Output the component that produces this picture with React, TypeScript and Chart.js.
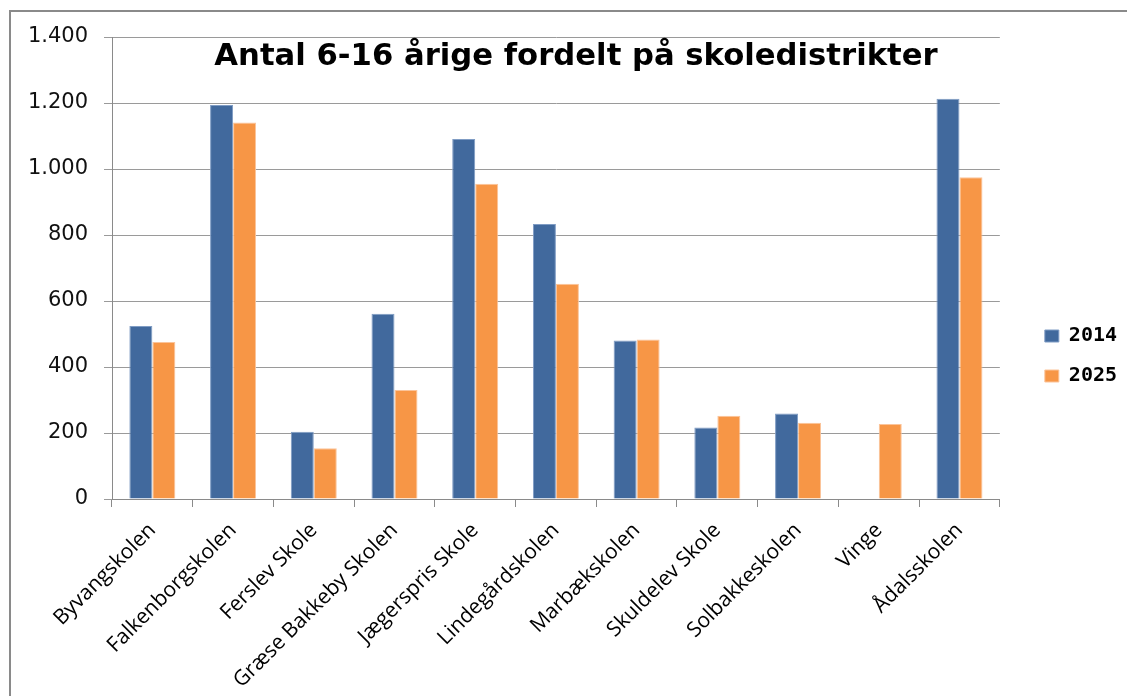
import React, { useEffect, useRef } from 'react';
import { Chart, registerables } from 'chart.js';

Chart.register(...registerables);

const categories = [
  'Byvangskolen',
  'Falkenborgskolen',
  'Ferslev Skole',
  'Græse Bakkeby Skolen',
  'Jægerspris Skole',
  'Lindegårdskolen',
  'Marbækskolen',
  'Skuldelev Skole',
  'Solbakkeskolen',
  'Vinge',
  'Ådalsskolen',
];
const values2014: (number | null)[] = [524, 1194, 204, 561, 1091, 833, 480, 217, 259, null, 1213];
const values2025: number[] = [476, 1141, 154, 330, 955, 652, 483, 252, 231, 227, 975];
const seriesLabels = ['2014', '2025'];
const yMin = 0;
const yMax = 1400;
const yStep = 200;
const titleText = 'Antal 6-16 årige fordelt på skoledistrikter';

const fmt = (v: number) => String(Math.round(v)).replace(/\B(?=(\d{3})+(?!\d))/g, '.');

export default function App() {
  const ref = useRef<HTMLCanvasElement | null>(null);
  useEffect(() => {
    if (!ref.current) return;
    const framePlugin = {
      id: 'frame',
      beforeDraw(chart: any) {
        const { ctx, width, height } = chart;
        ctx.save();
        ctx.fillStyle = '#ffffff';
        ctx.fillRect(0, 0, width, height);
        ctx.fillStyle = '#8a8a8a';
        ctx.fillRect(9, 10, width - 9, 2);
        ctx.fillRect(9, 10, 2, height - 10);
        ctx.restore();
      },
      afterDraw(chart: any) {
        const { ctx } = chart;
        ctx.save();
        ctx.fillStyle = '#000000';
        ctx.font = 'bold 30.7px "DejaVu Sans"';
        ctx.textAlign = 'center';
        ctx.textBaseline = 'alphabetic';
        ctx.fillText(titleText, 576, 65);
        ctx.restore();
      },
    };
    const chart = new Chart(ref.current, {
      type: 'bar',
      data: {
        labels: categories,
        datasets: [
          {
            label: seriesLabels[0],
            data: values2014,
            backgroundColor: '#41699D',
            borderColor: '#7f9cc4',
            borderWidth: 1,
            categoryPercentage: 0.57,
            barPercentage: 1,
          },
          {
            label: seriesLabels[1],
            data: values2025,
            backgroundColor: '#F79646',
            borderColor: '#fbc49a',
            borderWidth: 1,
            categoryPercentage: 0.57,
            barPercentage: 1,
          },
        ],
      },
      options: {
        responsive: false,
        animation: false,
        devicePixelRatio: 1,
        layout: { padding: { top: 16, bottom: 0, left: 0, right: 0 } },
        plugins: {
          title: {
            display: true,
            text: ' ',
            font: { size: 10, lineHeight: 1 },
            padding: { top: 5, bottom: 6 },
          },
          tooltip: { enabled: false },
          legend: {
            position: 'right',
            labels: {
              boxWidth: 14,
              boxHeight: 12,
              padding: 20,
              color: '#000',
              font: { family: '"DejaVu Sans Mono"', size: 20, weight: 'bold' },
            },
          },
        },
        scales: {
          x: {
            offset: true,
            grid: {
              offset: true,
              drawOnChartArea: false,
              drawTicks: true,
              tickLength: 8,
              color: '#8a8a8a',
            },
            border: { color: '#8a8a8a', width: 1 },
            ticks: {
              autoSkip: false,
              maxRotation: 45,
              minRotation: 45,
              padding: 11,
              color: '#000',
              font: { family: '"Open Sans"', size: 21 },
            },
            afterFit(scale: any) {
              scale.height = 197;
            },
          },
          y: {
            min: yMin,
            max: yMax,
            ticks: {
              stepSize: yStep,
              padding: 16,
              color: '#111',
              font: { family: '"DejaVu Sans"', size: 21 },
              callback: (v: any) => fmt(Number(v)),
            },
            grid: { color: '#9a9a9a', lineWidth: 1, tickLength: 8 },
            border: { color: '#8a8a8a', width: 1 },
            afterFit(scale: any) {
              scale.width = 112;
            },
          },
          gap: {
            type: 'linear',
            position: 'right',
            display: true,
            grid: { display: false },
            border: { display: false },
            ticks: { display: false },
            afterFit(scale: any) {
              scale.width = 25;
            },
          },
        },
      } as any,
      plugins: [framePlugin],
    });
    return () => chart.destroy();
  }, []);
  return (
    <div style={{ position: 'fixed', left: 0, top: 0, width: 1127, height: 696, background: '#fff' }}>
      <canvas ref={ref} width={1127} height={696} style={{ width: 1127, height: 696, display: 'block' }} />
    </div>
  );
}
